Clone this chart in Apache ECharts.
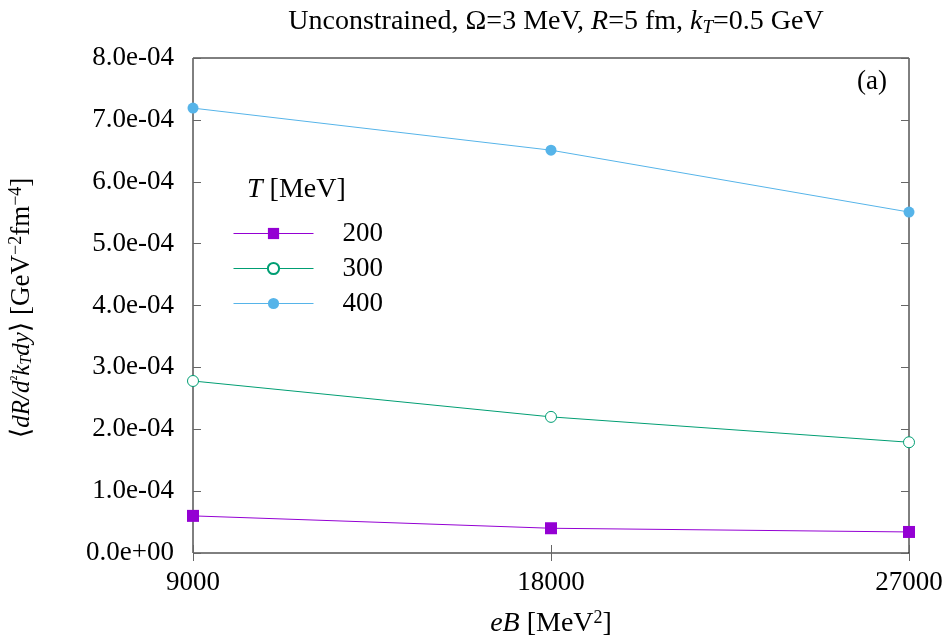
<!DOCTYPE html>
<html>
<head>
<meta charset="utf-8">
<script src="https://cdn.jsdelivr.net/npm/echarts@6/dist/echarts.min.js"></script>
<style>
  html, body { margin: 0; padding: 0; background: #fff; }
  #chart { width: 947px; height: 643px; }
</style>
</head>
<body>
<div id="chart"></div>
<script>
// eB values (MeV^2)
const eB = [9000, 18000, 27000];
const temps = ['200', '300', '400'];

// <dR/d2kT dy> values
const rate200 = [6.0e-5, 4.0e-5, 3.4e-5];
const rate300 = [2.78e-4, 2.20e-4, 1.79e-4];
const rate400 = [7.19e-4, 6.51e-4, 5.51e-4];

const colors = ['#9400D3', '#009E73', '#56B4E9'];
const font = '"Liberation Serif", "DejaVu Serif", serif';
const fs = 27;

function sciLabel(v) {
    const s = Number(v).toExponential(1);  // e.g. 8.0e-4
    const [m, e] = s.split('e');
    const sign = e[0] === '-' ? '-' : '+';
    const num = e.replace(/[+-]/, '').padStart(2, '0');
    return `${m}e${sign}${num}`;
}

const chart = echarts.init(document.getElementById('chart'));

const grid = { left: 193, right: 38, top: 58, bottom: 90, show: true, borderColor: '#000', borderWidth: 1 };

const tickStyle = { inside: true, length: 8, lineStyle: { color: '#666', width: 1 } };

const option = {
    animation: false,
    grid,
    title: {
        text: 'Unconstrained, Ω=3 MeV, {i|R}=5 fm, {i|k}{sub|T}=0.5 GeV',
        left: 551,
        textAlign: 'center',
        top: 1,
        textStyle: {
            fontFamily: font, fontSize: 28, fontWeight: 'normal', color: '#000',
            rich: {
                i: { fontFamily: font, fontSize: 28, fontStyle: 'italic', color: '#000' },
                sub: { fontFamily: font, fontSize: 19, fontStyle: 'italic', color: '#000', padding: [12, 0, 0, 0] }
            }
        }
    },
    legend: {
        orient: 'vertical',
        left: 228,
        top: 215,
        itemWidth: 80,
        itemHeight: 14,
        itemGap: 8,
        lineStyle: { width: 1 },
        data: temps.map(t => ({ name: t })),
        textStyle: { fontFamily: font, fontSize: fs, color: '#000', padding: [0, 0, 0, 24] }
    },
    graphic: [
        {
            type: 'text',
            left: 247, top: 176,
            style: {
                text: '{i|T} [MeV]',
                fontFamily: font, fontSize: 28, fill: '#000',
                rich: { i: { fontFamily: font, fontSize: 28, fontStyle: 'italic' } }
            }
        },
        {
            type: 'text',
            left: 857, top: 68,
            style: { text: '(a)', fontFamily: font, fontSize: fs, fill: '#000' }
        },
        {
            type: 'text',
            x: 22, y: 308,
            rotation: Math.PI / 2,
            style: {
                text: '⟨{i|dR/d}{n|²}{i|k}{sub|T}{i|dy}⟩ [GeV{sup|−2}fm{sup|−4}]',
                fontFamily: font, fontSize: fs, fill: '#000',
                align: 'center', verticalAlign: 'middle',
                rich: {
                    i: { fontFamily: font, fontSize: 25, fontStyle: 'italic' },
                    n: { fontFamily: font, fontSize: 16, padding: [0, 0, 10, 0] },
                    sub: { fontFamily: font, fontSize: 16, fontStyle: 'italic', padding: [10, 0, 0, 0] },
                    sup: { fontFamily: font, fontSize: 18, padding: [0, 0, 12, 0] }
                }
            }
        },
        {
            type: 'text',
            x: 551, y: 624,
            style: {
                text: '{i|eB} [MeV{sup|2}]',
                fontFamily: font, fontSize: 28, fill: '#000', align: 'center', verticalAlign: 'middle',
                rich: {
                    i: { fontFamily: font, fontSize: 28, fontStyle: 'italic' },
                    sup: { fontFamily: font, fontSize: 18, padding: [0, 0, 12, 0] }
                }
            }
        }
    ],
    xAxis: [
        {
            type: 'value', min: 9000, max: 27000, interval: 9000,
            axisLine: { show: false },
            axisTick: tickStyle,
            splitLine: { show: false },
            axisLabel: { fontFamily: font, fontSize: fs, color: '#000', margin: 16, formatter: v => String(v) }
        },
        {
            type: 'value', position: 'top', min: 9000, max: 27000, interval: 9000,
            axisLine: { show: false }, axisTick: tickStyle,
            splitLine: { show: false }, axisLabel: { show: false }
        }
    ],
    yAxis: [
        {
            type: 'value', min: 0, max: 8e-4, interval: 1e-4,
            axisLine: { show: false },
            axisTick: tickStyle,
            splitLine: { show: false },
            axisLabel: { fontFamily: font, fontSize: fs, color: '#000', margin: 19, formatter: sciLabel }
        },
        {
            type: 'value', position: 'right', min: 0, max: 8e-4, interval: 1e-4,
            axisLine: { show: false }, axisTick: tickStyle,
            splitLine: { show: false }, axisLabel: { show: false }
        }
    ],
    series: [
        {
            name: temps[0], type: 'line',
            data: eB.map((x, i) => [x, rate200[i]]),
            symbol: 'rect', symbolSize: 12,
            lineStyle: { width: 1, color: colors[0] },
            itemStyle: { color: colors[0] }
        },
        {
            name: temps[1], type: 'line',
            data: eB.map((x, i) => [x, rate300[i]]),
            symbol: 'circle', symbolSize: 11,
            lineStyle: { width: 1, color: colors[1] },
            itemStyle: { color: '#fff', borderColor: colors[1], borderWidth: 1 }
        },
        {
            name: temps[2], type: 'line',
            data: eB.map((x, i) => [x, rate400[i]]),
            symbol: 'circle', symbolSize: 11,
            lineStyle: { width: 1, color: colors[2] },
            itemStyle: { color: colors[2] }
        }
    ]
};

chart.setOption(option);
</script>
</body>
</html>
